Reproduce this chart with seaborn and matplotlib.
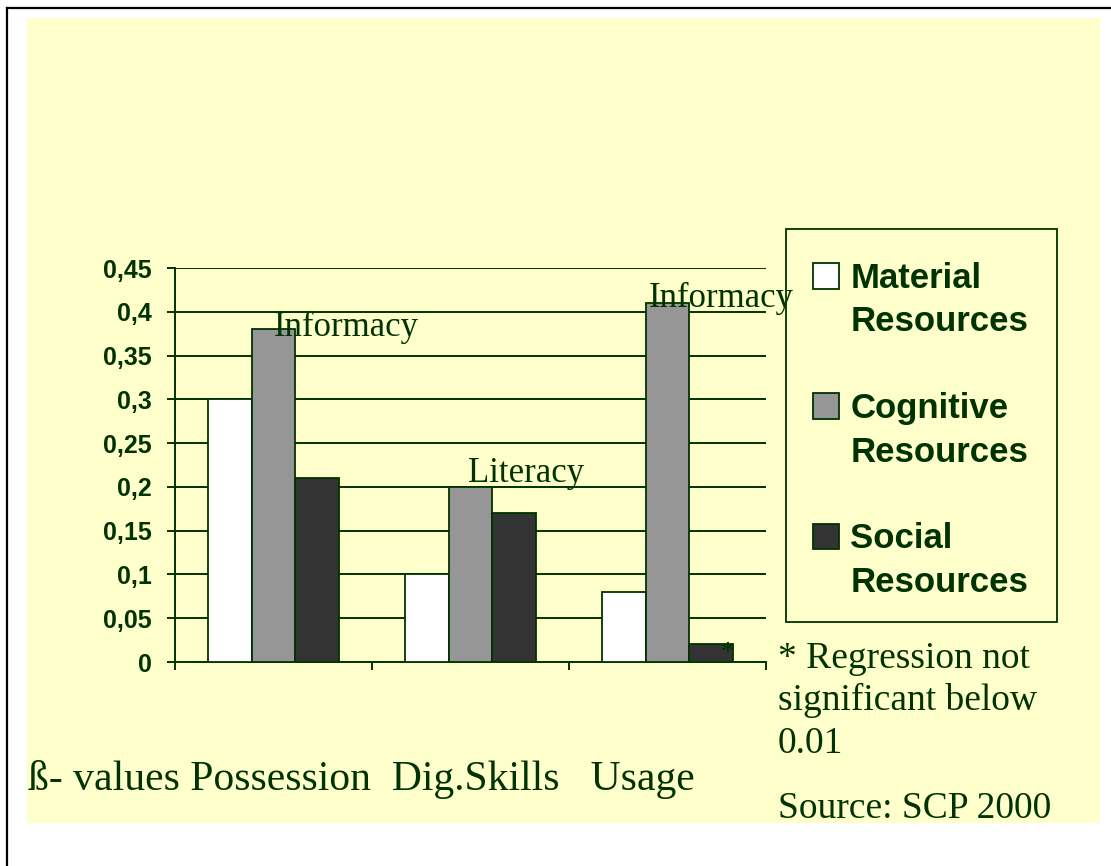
import matplotlib
matplotlib.use("Agg")
import matplotlib.pyplot as plt
from matplotlib.patches import Patch, Rectangle
from matplotlib.lines import Line2D
from matplotlib.ticker import FuncFormatter
import seaborn as sns
import pandas as pd

# data
groups = ["Possession", "Dig.Skills", "Usage"]
resources = ["Material Resources", "Cognitive Resources", "Social Resources"]
material = [0.30, 0.10, 0.08]
cognitive = [0.38, 0.20, 0.41]
social = [0.21, 0.17, 0.02]
yticks = [0, 0.05, 0.1, 0.15, 0.2, 0.25, 0.3, 0.35, 0.4, 0.45]

colors = {"Material Resources": "#FFFFFF",
          "Cognitive Resources": "#969696",
          "Social Resources": "#333333"}
green = "#003300"
yellow = "#FFFFCC"

df = pd.DataFrame({
    "group": groups * 3,
    "resource": [r for r in resources for _ in groups],
    "value": material + cognitive + social,
})

W, H = 1111, 866


def fx(x):
    return x / W


def fy(y):
    return 1 - y / H


fig = plt.figure(figsize=(W / 100, H / 100), dpi=100)
fig.patch.set_facecolor("white")

# slide background + border
fig.patches.append(Rectangle((fx(27), fy(823)), fx(1100) - fx(27), fy(18) - fy(823),
                             transform=fig.transFigure, facecolor=yellow, edgecolor="none", zorder=-5))
fig.lines.append(Line2D([fx(7), 1], [fy(8), fy(8)], transform=fig.transFigure, color="black", lw=1.6, zorder=-4))
fig.lines.append(Line2D([fx(7), fx(7)], [fy(8), 0], transform=fig.transFigure, color="black", lw=1.6, zorder=-4))

ax = fig.add_axes([fx(175), fy(662), fx(766) - fx(175), fy(268) - fy(662)])
ax.set_facecolor("none")

sns.barplot(data=df, x="group", y="value", hue="resource", hue_order=resources,
            palette=colors, width=0.67, gap=0, edgecolor=green, linewidth=1.3,
            legend=False, ax=ax, zorder=3)

ax.set_xlim(-0.5, 2.5)
ax.set_ylim(0, 0.45)
ax.set_yticks(yticks)
ax.yaxis.set_major_formatter(FuncFormatter(lambda v, p: f"{v:g}".replace(".", ",")))
ax.set_xticks([-0.5, 0.5, 1.5, 2.5])
ax.set_xticklabels([])
ax.set_xlabel("")
ax.set_ylabel("")
ax.grid(axis="y", color=green, lw=1.4, zorder=0)
ax.set_axisbelow(True)
for s in ["top", "right"]:
    ax.spines[s].set_visible(False)
for s in ["left", "bottom"]:
    ax.spines[s].set_color(green)
    ax.spines[s].set_linewidth(1.4)
ax.tick_params(axis="both", direction="out", length=6, width=1.4, color=green)
ax.tick_params(axis="y", pad=11, labelcolor=green)
for t in ax.get_yticklabels():
    t.set_fontfamily("Liberation Sans")
    t.set_fontweight("bold")
    t.set_fontsize(18)

# annotations on the bars
serif = "Liberation Serif"
ax.text(0.0, 0.372, "Informacy", family=serif, fontsize=25, color=green, clip_on=False, zorder=5)
ax.text(0.987, 0.2056, "Literacy", family=serif, fontsize=25, color=green, clip_on=False, zorder=5)
ax.text(1.906, 0.405, "Informacy", family=serif, fontsize=25, color=green, clip_on=False, zorder=5)
ax.text(2.27, 0.01, "*", family=serif, fontsize=20, color=green, va="center", zorder=5)

# legend
blank = Patch(facecolor="none", edgecolor="none")
handles, labels = [], []
for i, r in enumerate(resources):
    first, second = r.split(" ")
    handles += [Patch(facecolor=colors[r], edgecolor=green, lw=1.3), blank]
    labels += [first, second]
    if i < 2:
        handles.append(blank)
        labels.append(" ")
leg = fig.legend(handles, labels, loc="upper left", bbox_to_anchor=(fx(813), fy(262)),
                 frameon=False, borderpad=0, borderaxespad=0, handlelength=0.75,
                 handleheight=0.75, handletextpad=0.32, labelspacing=0.30,
                 prop={"family": "Liberation Sans", "weight": "bold", "size": 25})
for t in leg.get_texts():
    t.set_color(green)
fig.patches.append(Rectangle((fx(786), fy(622)), fx(1057) - fx(786), fy(229) - fy(622),
                             transform=fig.transFigure, facecolor="none", edgecolor=green, lw=1.3))

# slide texts
fig.text(fx(28), fy(790), "ß- values Possession  Dig.Skills   Usage", family=serif,
         fontsize=30, color=green, va="baseline")
notes = ["* Regression not", "significant below", "0.01"]
for txt, yb in zip(notes, [668, 710, 753]):
    fig.text(fx(778), fy(yb), txt, family=serif, fontsize=27, color=green, va="baseline")
fig.text(fx(778), fy(818), "Source: SCP 2000", family=serif, fontsize=27, color=green, va="baseline")

fig.savefig("out.png", dpi=100)
